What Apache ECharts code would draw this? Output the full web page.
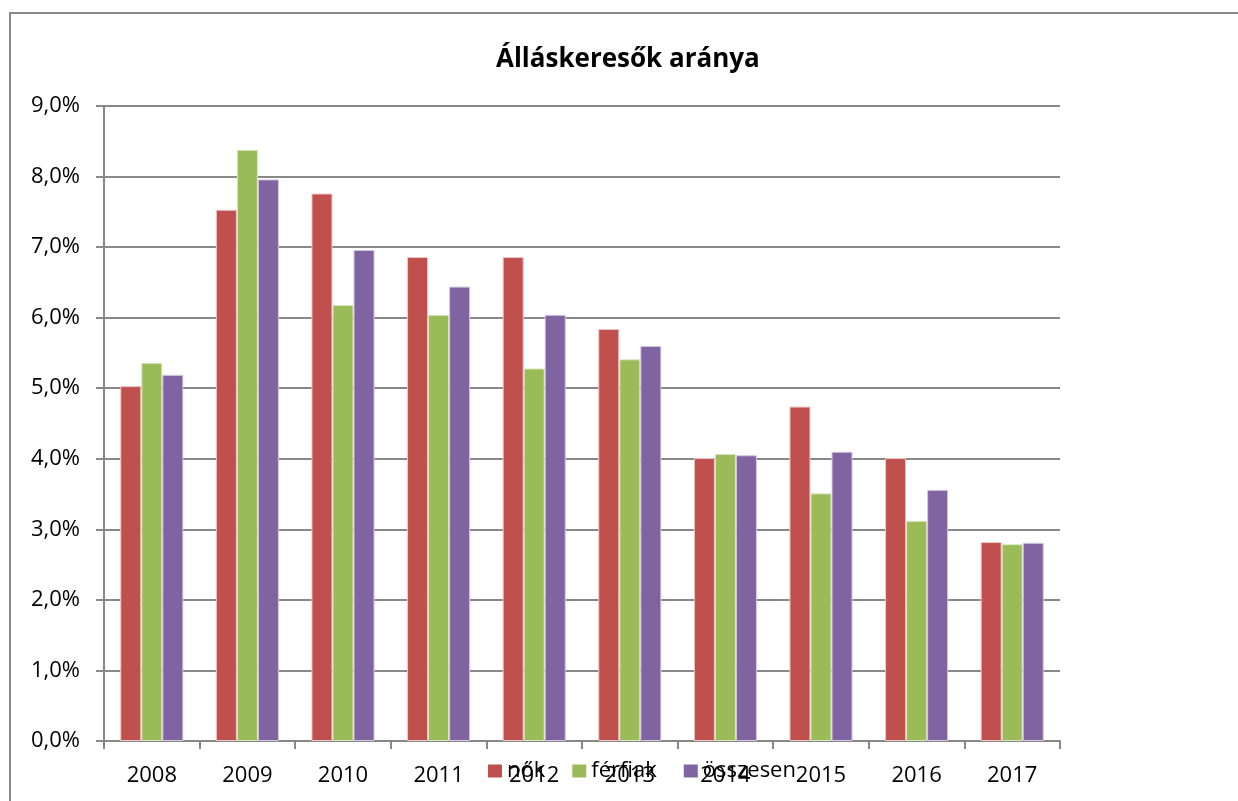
<!DOCTYPE html>
<html>
<head>
<meta charset="utf-8">
<script src="https://cdn.jsdelivr.net/npm/echarts@6/dist/echarts.min.js"></script>
<style>
  html, body { margin: 0; padding: 0; background: #fff; }
  #chart { width: 1238px; height: 801px; }
</style>
</head>
<body>
<div id="chart"></div>
<script>
// évek
const years = ["2008", "2009", "2010", "2011", "2012", "2013", "2014", "2015", "2016", "2017"];
// álláskeresők aránya (%)
const nok = [5.03, 7.53, 7.76, 6.86, 6.86, 5.84, 4.01, 4.74, 4.01, 2.82];
const ferfiak = [5.36, 8.38, 6.18, 6.04, 5.28, 5.41, 4.07, 3.51, 3.12, 2.79];
const osszesen = [5.19, 7.96, 6.96, 6.44, 6.04, 5.60, 4.05, 4.10, 3.56, 2.81];

const font = "'Open Sans', 'Noto Sans', sans-serif";

const chart = echarts.init(document.getElementById("chart"));

const option = {
  animation: false,
  title: {
    text: "Álláskeresők aránya",
    left: 491,
    top: 42,
    textStyle: { fontFamily: font, fontSize: 26, fontWeight: "bold", color: "#000" },
  },
  graphic: [
    {
      // keret
      type: "rect",
      shape: { x: 10, y: 13, width: 1240, height: 800 },
      style: { fill: null, stroke: "#888", lineWidth: 2 },
      silent: true,
    },
  ],
  legend: {
    data: ["nők", "férfiak", "összesen"],
    top: 755,
    left: 483,
    itemWidth: 14,
    itemHeight: 13,
    itemGap: 27,
    itemStyle: { borderWidth: 0 },
    icon: "rect",
    textStyle: { fontFamily: font, fontSize: 22, color: "#000" },
  },
  grid: { left: 104, right: 178, top: 106, bottom: 60 },
  xAxis: {
    type: "category",
    data: years,
    axisLine: { lineStyle: { color: "#888", width: 2 } },
    axisTick: { show: true, length: 8, lineStyle: { color: "#888", width: 2 } },
    axisLabel: { fontFamily: font, fontSize: 22, color: "#000", margin: 24 },
  },
  yAxis: {
    type: "value",
    min: 0,
    max: 9,
    interval: 1,
    axisLine: { show: true, lineStyle: { color: "#888", width: 2 } },
    axisTick: { show: true, length: 8, lineStyle: { color: "#888", width: 2 } },
    axisLabel: {
      fontFamily: font,
      fontSize: 22,
      color: "#000",
      margin: 24,
      formatter: (v) => v.toFixed(1).replace(".", ",") + "%",
    },
    splitLine: { lineStyle: { color: "#888", width: 2 } },
  },
  series: [
    { name: "nők", type: "bar", data: nok, barGap: "0%", barCategoryGap: "34%",
      itemStyle: { color: "#C0504D", borderColor: "#f0c8c8", borderWidth: 1 } },
    { name: "férfiak", type: "bar", data: ferfiak, barGap: "0%", barCategoryGap: "34%",
      itemStyle: { color: "#9BBB59", borderColor: "#dbe8c4", borderWidth: 1 } },
    { name: "összesen", type: "bar", data: osszesen, barGap: "0%", barCategoryGap: "34%",
      itemStyle: { color: "#8064A2", borderColor: "#d4c8e2", borderWidth: 1 } },
  ],
};

chart.setOption(option);
</script>
</body>
</html>
